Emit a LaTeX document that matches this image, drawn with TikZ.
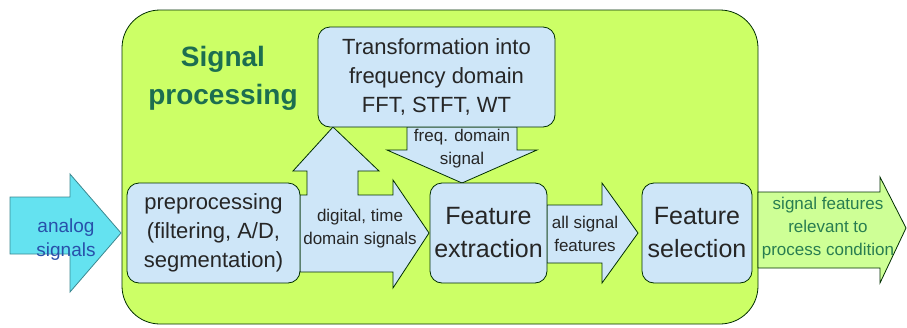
\documentclass[tikz,border=0pt]{standalone}
\usepackage{fontspec}
\setmainfont{Liberation Sans}
\begin{document}
\begin{tikzpicture}[x=1pt,y=-1pt,
  outl/.style={draw=black!70!green!60!black, line width=0.8pt, line join=miter},
  bluebox/.style={outl, fill=boxblue, rounded corners=12pt},
  lbl/.style={align=center, text=black!85, inner sep=0pt},
  bigtxt/.style={lbl, font=\fontsize{22}{29}\selectfont},
  fttxt/.style={lbl, font=\fontsize{25}{33}\selectfont},
  smtxt/.style={lbl, font=\fontsize{17}{23}\selectfont}]
\definecolor{boxblue}{RGB}{206,230,248}
\definecolor{lime}{RGB}{204,255,102}
\definecolor{outgreen}{RGB}{206,255,150}
\definecolor{cyanarrow}{RGB}{100,226,240}
\definecolor{titlegreen}{RGB}{28,110,80}
\definecolor{outtext}{RGB}{40,125,80}
\definecolor{analogtext}{RGB}{40,80,170}
\useasboundingbox (0,0) rectangle (907,327);
% main signal processing panel
\draw[outl, fill=lime, rounded corners=38pt] (122,10) rectangle (758,324);
% analog input arrow
\draw[outl, fill=cyanarrow, draw=cyanarrow!60!black] (10,197) -- (70,197) -- (70,174) -- (121,233) -- (70,292) -- (70,254) -- (10,254) -- cycle;
% output arrow
\draw[outl, fill=outgreen] (758,192) -- (880,192) -- (880,177) -- (906,228) -- (880,283) -- (880,268) -- (758,268) -- cycle;
% digital arrow with up branch
\draw[outl, fill=boxblue] (300,195) -- (307,195) -- (307,171) -- (293,171) -- (333,127) -- (379,171) -- (358,171) -- (358,195) -- (393,195) -- (393,180) -- (429,233) -- (393,288) -- (393,272) -- (300,272) -- cycle;
% freq domain arrow down
\draw[outl, fill=boxblue] (407,127) -- (407,150) -- (387,150) -- (462,183) -- (537,150) -- (517,150) -- (517,127) -- cycle;
% all signal features arrow
\draw[outl, fill=boxblue] (547,205) -- (602,205) -- (602,183) -- (638,233) -- (602,283) -- (602,263) -- (547,263) -- cycle;
% boxes
\node[bluebox, minimum width=237pt, minimum height=100pt] (trans) at (436.5,77) {};
\node[bigtxt] (transtxt) at (trans.center) {Transformation into\\frequency domain\\FFT, STFT, WT};
\node[bluebox, minimum width=173pt, minimum height=100pt] (pre) at (213.5,233) {};
\node[bigtxt] (pretxt) at (pre.center) {preprocessing\\(filtering, A/D,\\segmentation)};
\node[bluebox, minimum width=117pt, minimum height=100pt] (fext) at (488.5,233) {};
\node[fttxt] (fexttxt) at (fext.center) {Feature\\extraction};
\node[bluebox, minimum width=110pt, minimum height=100pt] (fsel) at (697,233) {};
\node[fttxt] (fseltxt) at (fsel.center) {Feature\\selection};
% labels
\node[lbl, font=\bfseries\fontsize{28}{38}\selectfont, text=titlegreen] (title) at (223,78) {Signal\\processing};
\node[smtxt] (digital) at (360,229) {digital, time\\domain signals};
\node[smtxt] (freq) at (462,149) {freq. domain\\signal};
\node[smtxt] (allsig) at (585,234) {all signal\\features};
\node[smtxt, text=outtext] (outlbl) at (828,228) {signal features\\relevant to\\process condition};
\node[lbl, font=\fontsize{19}{24}\selectfont, text=analogtext] (analog) at (66,240) {analog\\signals};
\end{tikzpicture}
\end{document}
